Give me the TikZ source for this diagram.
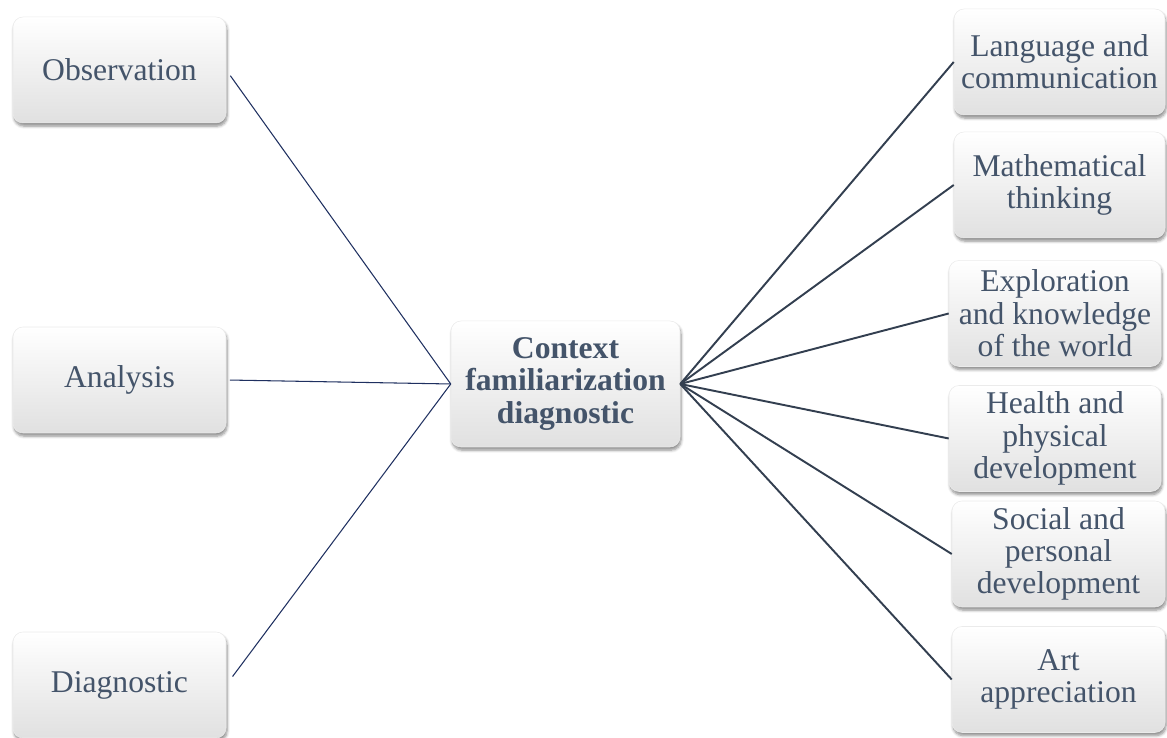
\documentclass[tikz,border=0pt]{standalone}
\usepackage{fontspec}
\setmainfont{Liberation Serif}
\usetikzlibrary{shadows.blur}
\definecolor{boxtext}{HTML}{44546A}
\definecolor{leftline}{HTML}{1F3060}
\definecolor{rightline}{HTML}{333F50}
\begin{document}
\begin{tikzpicture}[
		box/.style={rounded corners=0.2cm, draw=black!8, line width=0.3pt,
			top color=white, middle color=white, bottom color=black!12,
			blur shadow={shadow xshift=0.6pt, shadow yshift=-1.8pt, shadow blur steps=6, shadow blur radius=1.6pt, shadow opacity=45},
			minimum width=4.26cm, minimum height=2.12cm, align=center, inner sep=0pt,
			text=boxtext, font=\fontsize{18}{18.4}\selectfont},
		thin line/.style={draw=leftline, line width=0.6pt},
		thick line/.style={draw=rightline, line width=1.1pt}]
		\useasboundingbox (0,0) rectangle (23.34,14.76);

		\node[box] (obs) at (2.39,13.36) {Observation};
		\node[box] (ana) at (2.39,7.16) {Analysis};
		\node[box] (diag) at (2.39,1.06) {Diagnostic};

		\node[box, minimum width=4.58cm, minimum height=2.52cm, font=\fontsize{18}{18.4}\selectfont\bfseries] (ctx) at (11.31,7.08) {Context\\familiarization\\diagnostic};

		\node[box, minimum width=4.22cm] (lang) at (21.19,13.52) {Language and\\communication};
		\node[box, minimum width=4.22cm] (math) at (21.19,11.06) {Mathematical\\thinking};
		\node[box, minimum width=4.24cm] (expl) at (21.10,8.49) {Exploration\\and knowledge\\of the world};
		\node[box, minimum width=4.24cm] (health) at (21.10,5.99) {Health and\\physical\\development};
		\node[box, minimum width=4.26cm] (social) at (21.17,3.68) {Social and\\personal\\development};
		\node[box, minimum width=4.26cm] (art) at (21.17,1.17) {Art\\appreciation};

		\draw[thin line, shorten <=4pt] (obs.east) -- (ctx.west);
		\draw[thin line, shorten <=2pt] (ana.east) -- (ctx.west);
		\draw[thin line, shorten <=6pt] (diag.east) -- (ctx.west);

		\draw[thick line] (ctx.east) -- (lang.west);
		\draw[thick line] (ctx.east) -- (math.west);
		\draw[thick line] (ctx.east) -- (expl.west);
		\draw[thick line] (ctx.east) -- (health.west);
		\draw[thick line] (ctx.east) -- (social.west);
		\draw[thick line] (ctx.east) -- (art.west);
	\end{tikzpicture}
\end{document}
